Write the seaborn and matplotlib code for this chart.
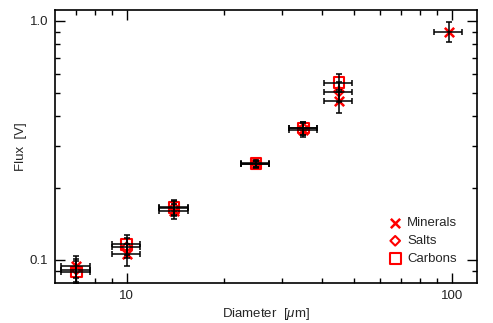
import matplotlib
matplotlib.use("Agg")
import matplotlib.pyplot as plt
import seaborn as sns
import numpy as np
import pandas as pd
from matplotlib.ticker import FixedLocator, FixedFormatter, NullFormatter

# ---- data ----
diam_all = [7, 10, 14, 25, 35, 45, 98]
diam_err = [0.7, 1.0, 1.4, 2.5, 3.5, 4.5, 9.8]
flux_err = [0.010, 0.011, 0.012, 0.008, 0.022, 0.050, 0.090]

minerals = [0.094, 0.1055, 0.160, 0.251, 0.350, 0.463, 0.902]
salts = [0.091, 0.113, 0.165, 0.252, 0.355, 0.506]
carbons = [0.089, 0.116, 0.166, 0.253, 0.356, 0.552]

series_names = ["Minerals", "Salts", "Carbons"]
x_ticks = [10, 100]
x_ticklabels = ["10", "100"]
y_ticks = [0.1, 1.0]
y_ticklabels = ["0.1", "1.0"]

sns.set_style("ticks")
plt.rcParams['font.family'] = ['Liberation Sans', 'DejaVu Sans']
plt.rcParams['mathtext.fontset'] = 'custom'
plt.rcParams['mathtext.it'] = 'Liberation Sans:italic'

fig = plt.figure(figsize=(4.93, 3.23), dpi=100)
ax = fig.add_axes([55/493, 1-283/323, (477-55)/493, (283-10)/323])

series_vals = [minerals, salts, carbons]
markers = ['x', 'D', 's']
msizes = [45, 24, 58]

for name, vals, mk, ms in zip(series_names, series_vals, markers, msizes):
    n = len(vals)
    df = pd.DataFrame({"Diameter": diam_all[:n], "Flux": vals})
    if mk == 'x':
        sns.scatterplot(data=df, x="Diameter", y="Flux", marker=mk, color='red',
                        s=ms, linewidth=1.8, ax=ax, label=name, zorder=3)
    else:
        sns.scatterplot(data=df, x="Diameter", y="Flux", marker=mk,
                        facecolors='none', edgecolor='red', s=ms, linewidth=1.5,
                        ax=ax, label=name, zorder=3)
    ax.errorbar(diam_all[:n], vals, xerr=diam_err[:n], yerr=flux_err[:n],
                fmt='none', ecolor='black', elinewidth=1.1, capsize=2.5,
                capthick=1.1, zorder=4)

ax.set_xscale('log')
ax.set_yscale('log')
ax.set_xlim(6.02, 119.7)
ax.set_ylim(0.080, 1.11)

ax.xaxis.set_major_locator(FixedLocator(x_ticks))
ax.xaxis.set_major_formatter(FixedFormatter(x_ticklabels))
ax.xaxis.set_minor_locator(FixedLocator([7, 8, 9, 20, 30, 40, 50, 60, 70, 80, 90]))
ax.xaxis.set_minor_formatter(NullFormatter())
ax.yaxis.set_major_locator(FixedLocator(y_ticks))
ax.yaxis.set_major_formatter(FixedFormatter(y_ticklabels))
ax.yaxis.set_minor_locator(FixedLocator([0.09, 0.2, 0.3, 0.4, 0.5, 0.6, 0.7, 0.8, 0.9]))
ax.yaxis.set_minor_formatter(NullFormatter())

ax.tick_params(which='both', direction='in', top=True, right=True, color='black',
               labelsize=9.5, labelcolor='#222222', width=1.0)
ax.tick_params(which='major', length=7, pad=5)
ax.tick_params(which='minor', length=3.5)
for sp in ax.spines.values():
    sp.set_linewidth(1.2)
    sp.set_color('black')

ax.set_xlabel(r"Diameter  [$\mu$m]", fontsize=9.5, labelpad=3)
ax.set_ylabel("Flux  [V]", fontsize=9.5, labelpad=2)

leg = ax.legend(loc='lower right', bbox_to_anchor=(0.975, 0.032), frameon=False,
                fontsize=9.5, handletextpad=0.3, labelspacing=0.42,
                handlelength=1.2, borderpad=0.2)

fig.savefig("out.png", dpi=100)
